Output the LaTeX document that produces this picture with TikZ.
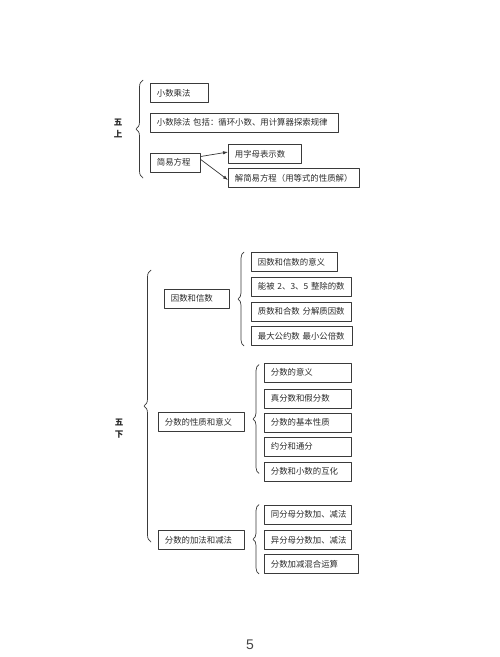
\documentclass[tikz,border=0pt]{standalone}
\usepackage{fontspec}
\setmainfont{Liberation Sans}
\newfontfamily\cjk{Noto Sans CJK SC}
\usetikzlibrary{arrows.meta,decorations.pathreplacing}
\definecolor{mapInk}{HTML}{2B2B2B}
\definecolor{mapLine}{HTML}{3A3A3A}
\definecolor{mapPage}{HTML}{444444}

\begin{document}
\begin{tikzpicture}[x=1pt,y=-1pt,>=Latex,line cap=round,line join=round]
\path[fill=white] (0,0) rectangle (500,657);
\useasboundingbox (0,0) rectangle (500,657);
\tikzset{box/.style={draw=mapLine,line width=0.7pt,anchor=west,align=left,minimum height=19pt,inner xsep=6.5pt,inner ysep=0pt,text=mapInk,font=\cjk\fontsize{8.4}{10}\selectfont},brace/.style={draw=mapLine,line width=0.7pt,decorate,decoration={brace,amplitude=7pt}},grade/.style={text=mapInk,align=center,font=\cjk\bfseries\fontsize{8.5}{12}\selectfont},link/.style={draw=mapLine,line width=0.7pt,-{Latex[length=5pt,width=3.5pt]}}}
% fifth grade, first term
\node[grade] (wushang) at (118,128.5) {五\\上};
\draw[brace] (143,178) -- (143,80);
\node[box,text width=45pt] (chengfa) at (150,93) {小数乘法};
\node[box,text width=175pt] (chufa) at (150,122.5) {小数除法 包括：循环小数、用计算器探索规律};
\node[box,text width=37pt] (fangcheng) at (150,162.5) {简易方程};
\node[box,text width=60pt] (zimu) at (228,154) {用字母表示数};
\node[box,text width=118pt] (jiefangcheng) at (228,178) {解简易方程（用等式的性质解）};
\draw[link] ([yshift=6pt]fangcheng.east) -- ([yshift=2pt]zimu.west);
\draw[link] ([yshift=3pt]fangcheng.east) -- ([yshift=-2pt]jiefangcheng.west);
% fifth grade, second term
\node[grade] (wuxia) at (119,428.5) {五\\下};
\draw[brace] (151,542) -- (151,270);
\node[box,text width=52pt] (yinshu) at (164,298.5) {因数和信数};
\node[box,text width=73pt] (yiyi) at (251,262) {因数和信数的意义};
\node[box,text width=87pt] (zhengchu) at (251,286.5) {能被 2、3、5 整除的数};
\node[box,text width=87pt] (zhishu) at (251,311.5) {质数和合数 分解质因数};
\node[box,text width=88pt] (gongyue) at (251,336) {最大公约数 最小公倍数};
\draw[brace,decoration={amplitude=6pt}] ([xshift=-7pt]gongyue.south west) -- ([xshift=-7pt]yiyi.north west);
\node[box,text width=73pt] (xingzhi) at (158,422) {分数的性质和意义};
\node[box,text width=74pt] (fenshu) at (264,372.5) {分数的意义};
\node[box,text width=74pt] (zhenjia) at (264,398.5) {真分数和假分数};
\node[box,text width=74pt] (jiben) at (264,422.5) {分数的基本性质};
\node[box,text width=74pt] (yuefen) at (264,446.5) {约分和通分};
\node[box,text width=74pt] (huhua) at (264,471.5) {分数和小数的互化};
\draw[brace,decoration={amplitude=6pt}] ([shift={(-5pt,8pt)}]huhua.south west) -- ([shift={(-5pt,-2pt)}]fenshu.north west);
\node[box,text width=73pt] (jiajian) at (158,540) {分数的加法和减法};
\node[box,text width=74pt] (tongfenmu) at (264,514.5) {同分母分数加、减法};
\node[box,text width=74pt] (yifenmu) at (264,540) {异分母分数加、减法};
\node[box,text width=81pt] (hunhe) at (264,564) {分数加减混合运算};
\draw[brace,decoration={amplitude=6pt}] ([xshift=-5pt]hunhe.south west) -- ([xshift=-5pt]tongfenmu.north west);
\node[text=mapPage,font=\fontsize{14}{16}\selectfont] (yema) at (250,645) {5};
\end{tikzpicture}
\end{document}
